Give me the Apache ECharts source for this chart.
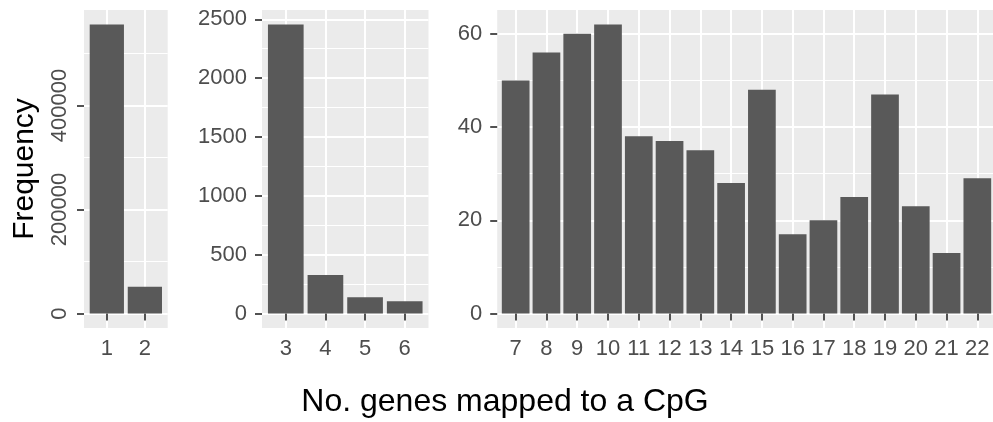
<!DOCTYPE html>
<html><head><meta charset="utf-8">
<script src="https://cdn.jsdelivr.net/npm/echarts@6/dist/echarts.min.js"></script>
<style>html,body{margin:0;padding:0;background:#fff}#c{width:993px;height:422px}</style>
</head><body><div id="c"></div>
<script>
// ---- data ----
const panel1Categories = [1, 2];
const panel1Values = [555800, 51500];
const panel2Categories = [3, 4, 5, 6];
const panel2Values = [2456, 327, 139, 105];
const panel3Categories = [7, 8, 9, 10, 11, 12, 13, 14, 15, 16, 17, 18, 19, 20, 21, 22];
const panel3Values = [50, 56, 60, 62, 38, 37, 35, 28, 48, 17, 20, 25, 47, 23, 13, 29];
const panel1YTicks = [0, 200000, 400000];
const panel1YMinor = [100000, 300000, 500000];
const panel2YTicks = [0, 500, 1000, 1500, 2000, 2500];
const panel2YMinor = [250, 750, 1250, 1750, 2250];
const panel3YTicks = [0, 20, 40, 60];
const panel3YMinor = [10, 30, 50];
const yTitle = 'Frequency';
const xTitle = 'No. genes mapped to a CpG';

// ---- layout / style ----
const FONT = '"Liberation Sans", Arial, Helvetica, sans-serif';
const TOP = 10, HEIGHT = 318;
const panels = [
  { cats: panel1Categories, vals: panel1Values, ticks: panel1YTicks, minor: panel1YMinor, left: 84, width: 83.7, rotate: 90 },
  { cats: panel2Categories, vals: panel2Values, ticks: panel2YTicks, minor: panel2YMinor, left: 262, width: 166.5, rotate: 0 },
  { cats: panel3Categories, vals: panel3Values, ticks: panel3YTicks, minor: panel3YMinor, left: 497.2, width: 498.6, rotate: 0 }
];

const grid = [], xAxis = [], yAxis = [], series = [];
panels.forEach((p, i) => {
  const maxV = Math.max.apply(null, p.vals);
  grid.push({ left: p.left, top: TOP, width: p.width, height: HEIGHT, show: true,
    backgroundColor: '#EBEBEB', borderWidth: 0, containLabel: false, outerBoundsMode: 'none' });
  xAxis.push({
    type: 'value', gridIndex: i,
    min: p.cats[0] - 0.6, max: p.cats[p.cats.length - 1] + 0.6,
    axisLine: { show: false },
    axisTick: { show: true, length: 7, customValues: p.cats, lineStyle: { color: '#333333', width: 1.7 } },
    axisLabel: { show: true, customValues: p.cats, color: '#4D4D4D', fontSize: 22, fontFamily: FONT, margin: 10 },
    splitLine: { show: true, lineStyle: { color: '#FFFFFF', width: 2 } }
  });
  const yMajor = {
    type: 'value', gridIndex: i,
    min: -0.05 * maxV, max: 1.05 * maxV,
    axisLine: { show: false },
    axisTick: { show: true, length: 7, customValues: p.ticks, lineStyle: { color: '#333333', width: 1.7 } },
    axisLabel: { show: true, customValues: p.ticks, color: '#4D4D4D', fontSize: 22, fontFamily: FONT,
      margin: p.rotate ? 13 : 15, rotate: p.rotate, formatter: v => String(v) },
    splitLine: { show: true, lineStyle: { color: '#FFFFFF', width: 2 } }
  };
  if (i === 0) {
    yMajor.name = yTitle;
    yMajor.nameLocation = 'middle';
    yMajor.nameRotate = 90;
    yMajor.nameGap = 44;
    yMajor.nameTextStyle = { fontSize: 30, color: '#000000', fontFamily: FONT };
  }
  yAxis.push(yMajor);
  yAxis.push({
    type: 'value', gridIndex: i,
    min: -0.05 * maxV, max: 1.05 * maxV,
    axisLine: { show: false },
    axisTick: { show: false, customValues: p.minor },
    axisLabel: { show: false, customValues: p.minor },
    splitLine: { show: true, lineStyle: { color: '#FFFFFF', width: 1 } }
  });
  series.push({
    type: 'bar', xAxisIndex: i, yAxisIndex: 2 * i,
    data: p.cats.map((c, k) => [c, p.vals[k]]),
    barWidth: '90%',
    itemStyle: { color: '#595959' },
    silent: true
  });
});

const chart = echarts.init(document.getElementById('c'), null, { renderer: 'canvas' });
chart.setOption({
  animation: false,
  backgroundColor: '#FFFFFF',
  grid, xAxis, yAxis, series,
  graphic: [{
    type: 'text', x: 505, y: 402,
    style: { text: xTitle, fontSize: 32, fill: '#000000', fontFamily: FONT, align: 'center', verticalAlign: 'middle' }
  }]
});
</script>
</body></html>
